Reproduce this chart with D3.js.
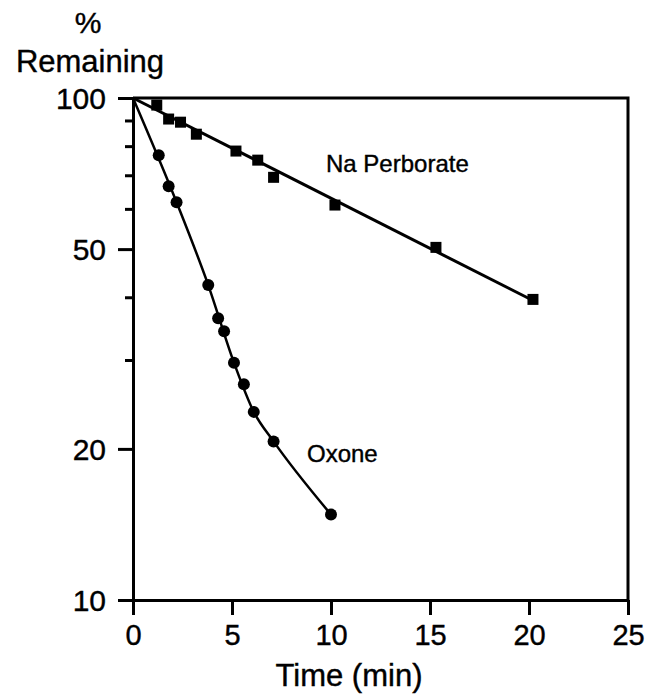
<!DOCTYPE html>
<html>
<head>
<meta charset="utf-8">
<script src="https://cdn.jsdelivr.net/npm/d3@7"></script>
<style>
  body { margin: 0; background: #fff; }
  svg text { font-family: "Liberation Sans", Arial, Helvetica, sans-serif; fill: #000; stroke: #000; stroke-width: 0.4px; }
</style>
</head>
<body>
<div id="chart"></div>
<script>
// Données
const xTicks = [0, 5, 10, 15, 20, 25];
const yMajor = [10, 20, 50, 100];
const yMinor = [30, 40, 60, 70, 80, 90];

// Oxone (cercles)
const oxoneTime = [1.3, 1.8, 2.2, 3.8, 4.3, 4.6, 5.1, 5.6, 6.1, 7.1, 10.0];
const oxonePct  = [76.9, 66.7, 62.0, 42.4, 36.4, 34.3, 29.7, 26.9, 23.7, 20.7, 14.8];
// courbe tracée à la main
const oxoneCurveTime = [0, 2.2, 3.8, 5.1, 6.1, 7.1, 10.0];
const oxoneCurvePct  = [100, 62.0, 42.4, 29.7, 23.7, 20.7, 14.8];

// Na Perborate (carrés)
const perbTime = [1.2, 1.8, 2.4, 3.2, 5.2, 6.3, 7.1, 10.2, 15.3, 20.2];
const perbPct  = [96.8, 90.8, 89.5, 84.7, 78.4, 75.2, 69.5, 61.2, 50.4, 39.7];
// droite de régression
const perbFitTime = [0, 20.2];
const perbFitPct  = [100, 39.5];

(function() {
    const width = 647, height = 694;
    const left = 133, right = 628, top = 98, bottom = 600;

    const svg = d3.select("#chart").append("svg")
        .attr("width", width)
        .attr("height", height);

    const x = d3.scaleLinear().domain([0, 25]).range([left, right]);
    const y = d3.scaleLog().domain([10, 100]).range([bottom, top]);

    const zip = (a, b) => a.map((v, i) => [v, b[i]]);

    // Cadre (haut et droite)
    svg.append("path")
        .attr("d", `M${left},${top}H${right}V${bottom}`)
        .attr("fill", "none")
        .attr("stroke", "#000")
        .attr("stroke-width", 3);

    // Axe X
    const xAxis = svg.append("g")
        .attr("transform", `translate(0,${bottom})`)
        .call(d3.axisBottom(x).tickValues(xTicks).tickSize(15).tickSizeOuter(0).tickPadding(8));
    xAxis.select(".domain").attr("stroke-width", 3);
    xAxis.selectAll(".tick line").attr("stroke-width", 3);
    xAxis.selectAll(".tick text").attr("font-size", 29).attr("dy", "0.75em");

    // Axe Y (log)
    const yAxis = svg.append("g")
        .attr("transform", `translate(${left},0)`)
        .call(d3.axisLeft(y).tickValues(yMajor).tickFormat(d3.format("d")).tickSize(15).tickSizeOuter(0).tickPadding(12));
    yAxis.select(".domain").attr("stroke-width", 3);
    yAxis.selectAll(".tick line").attr("stroke-width", 3);
    yAxis.selectAll(".tick text").attr("font-size", 30).attr("dy", "0.36em");

    svg.append("g")
        .selectAll("line")
        .data(yMinor)
        .join("line")
        .attr("x1", left - 8)
        .attr("x2", left)
        .attr("y1", d => y(d))
        .attr("y2", d => y(d))
        .attr("stroke", "#000")
        .attr("stroke-width", 3);

    // Courbes
    const line = d3.line().x(d => x(d[0])).y(d => y(d[1]));

    svg.append("path")
        .datum(zip(perbFitTime, perbFitPct))
        .attr("d", line)
        .attr("fill", "none")
        .attr("stroke", "#000")
        .attr("stroke-width", 3);

    svg.append("path")
        .datum(zip(oxoneCurveTime, oxoneCurvePct))
        .attr("d", line.curve(d3.curveMonotoneX))
        .attr("fill", "none")
        .attr("stroke", "#000")
        .attr("stroke-width", 2.5);

    // Points
    svg.append("g")
        .selectAll("circle")
        .data(zip(oxoneTime, oxonePct))
        .join("circle")
        .attr("cx", d => x(d[0]))
        .attr("cy", d => y(d[1]))
        .attr("r", 6)
        .attr("fill", "#000");

    const s = 11;
    svg.append("g")
        .selectAll("rect")
        .data(zip(perbTime, perbPct))
        .join("rect")
        .attr("x", d => x(d[0]) - s / 2)
        .attr("y", d => y(d[1]) - s / 2)
        .attr("width", s)
        .attr("height", s)
        .attr("fill", "#000");

    // Textes
    svg.append("text").attr("x", 326).attr("y", 172).attr("font-size", 24).text("Na Perborate");
    svg.append("text").attr("x", 307).attr("y", 462).attr("font-size", 24).text("Oxone");

    svg.append("text").attr("x", 88).attr("y", 33).attr("text-anchor", "middle").attr("font-size", 30).text("%");
    svg.append("text").attr("x", 90).attr("y", 72).attr("text-anchor", "middle").attr("font-size", 31).text("Remaining");

    svg.append("text").attr("x", 349).attr("y", 686).attr("text-anchor", "middle").attr("font-size", 31).text("Time (min)");
})();
</script>
</body>
</html>
